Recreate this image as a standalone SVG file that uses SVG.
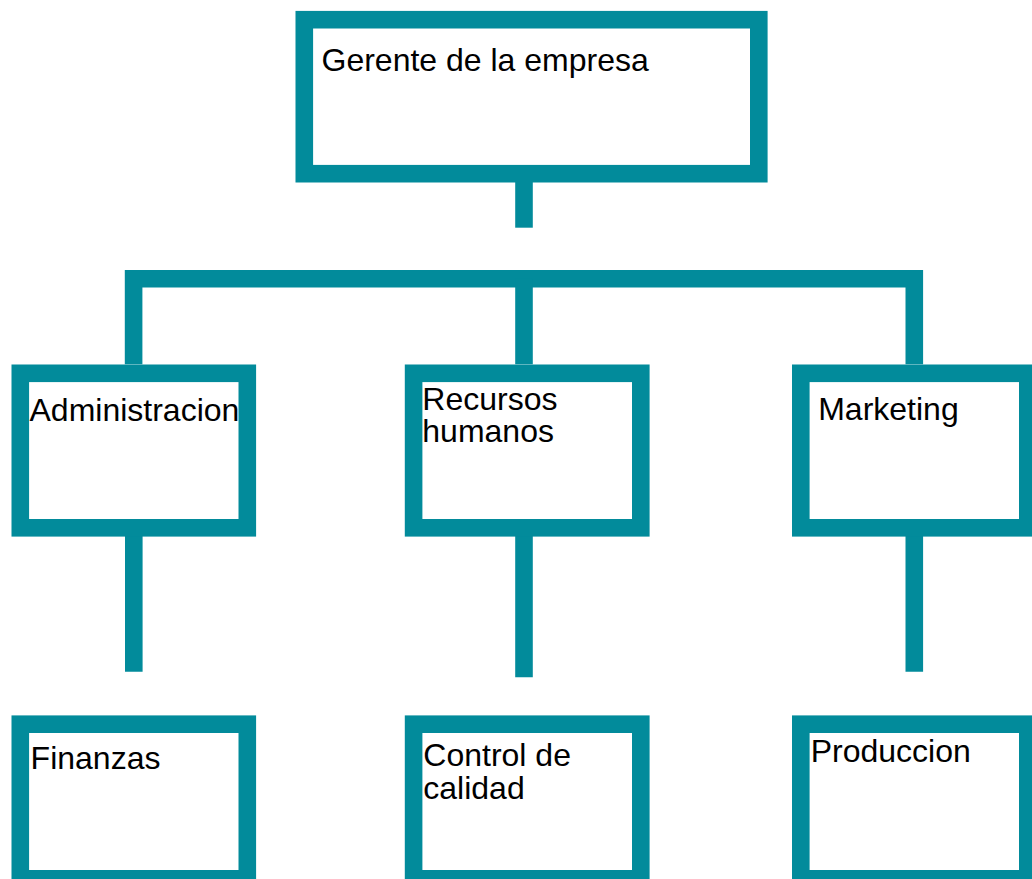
<svg xmlns="http://www.w3.org/2000/svg" width="1032" height="879" viewBox="0 0 1032 879">
  <style>
    .box { fill: #ffffff; stroke: #028B9B; stroke-width: 17.6; stroke-linejoin: miter; }
    .conn { fill: none; stroke: #028B9B; stroke-width: 17.6; stroke-linecap: butt; stroke-linejoin: miter; }
    .lbl { font-family: "Liberation Sans", Arial, sans-serif; font-size: 32px; fill: #000000; }
  </style>
  <rect width="1032" height="879" fill="#ffffff"/>
  <g id="connectors">
    <path class="conn" d="M524,182 V227.7"/>
    <path class="conn" d="M133.6,364.3 V278.8 H914.3 V364.3"/>
    <path class="conn" d="M524,278.8 V364.3"/>
    <path class="conn" d="M133.8,536 V671.7"/>
    <path class="conn" d="M524,536 V677.3"/>
    <path class="conn" d="M914.3,536 V671.7"/>
  </g>
  <g id="gerente">
    <rect class="box" x="304.3" y="19.7" width="454.5" height="154"/>
    <text class="lbl" x="321.5" y="71">Gerente de la empresa</text>
  </g>
  <g id="administracion">
    <rect class="box" x="20.3" y="373.3" width="227" height="154.5"/>
    <text class="lbl" x="29.5" y="420.5">Administracion</text>
  </g>
  <g id="recursos-humanos">
    <rect class="box" x="413.6" y="373.3" width="227.2" height="154.5"/>
    <text class="lbl" x="422.3" y="409.5">Recursos<tspan x="422.3" dy="32.5">humanos</tspan></text>
  </g>
  <g id="marketing">
    <rect class="box" x="800.8" y="373.3" width="227" height="154.5"/>
    <text class="lbl" x="818.2" y="419.5">Marketing</text>
  </g>
  <g id="finanzas">
    <rect class="box" x="20.3" y="724.2" width="227" height="154.6"/>
    <text class="lbl" x="30.6" y="768.5">Finanzas</text>
  </g>
  <g id="control-calidad">
    <rect class="box" x="413.6" y="724.2" width="227.2" height="154.6"/>
    <text class="lbl" x="423.3" y="766">Control de<tspan x="423.3" dy="32.5">calidad</tspan></text>
  </g>
  <g id="produccion">
    <rect class="box" x="800.8" y="724.2" width="227" height="154.6"/>
    <text class="lbl" x="810.7" y="762">Produccion</text>
  </g>
</svg>
